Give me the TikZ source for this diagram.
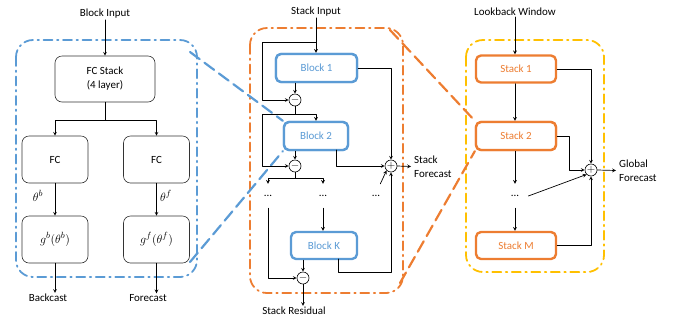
\documentclass[tikz,border=0pt]{standalone}
\usepackage{fontspec}
\setmainfont{Carlito}

\definecolor{nbblue}{HTML}{5B9BD5}
\definecolor{nborange}{HTML}{ED7D31}
\definecolor{nbgold}{HTML}{FFC000}

\tikzset{
  plainbox/.style={draw=black!80,line width=0.6pt,rounded corners=7bp,minimum width=66bp,minimum height=47bp,align=center},
  blockbox/.style={draw=nbblue,text=nbblue,line width=2.4pt,rounded corners=5bp,minimum height=27bp,fill=white},
  stackbox/.style={draw=nborange,text=nborange,line width=2.4pt,rounded corners=5bp,minimum width=80bp,minimum height=27bp,fill=white},
  opcirc/.style={circle,draw,line width=0.6pt,minimum size=12bp,inner sep=0pt,fill=white},
  dotsnode/.style={minimum height=24bp,minimum width=8bp,inner sep=0pt},
  mathlabel/.style={font=\fontsize{12.5}{14}\selectfont},
  flow/.style={->,line width=0.7pt},
  region/.style={line width=1.8pt,rounded corners=17bp,dash pattern=on 9bp off 4.5bp on 1.5bp off 4.5bp},
  zoomline/.style={line width=2.2pt,dash pattern=on 12bp off 6bp}
}

\begin{document}
\begin{tikzpicture}[x=1bp,y=-1bp,line cap=round,line join=round,>=stealth,every node/.style={inner sep=1pt,font=\fontsize{11}{14}\selectfont}]
  \useasboundingbox (0,0) rectangle (683,324);

  % dash-dot frames and the zoom lines between them
  \draw[region,nbblue] (16,40) rectangle (197,277);
  \draw[region,nborange] (250,28) rectangle (403,293);
  \draw[region,nbgold] (466,40) rectangle (604,272);
  \coordinate (bzt) at (190,52);
  \coordinate (bzb) at (190,262);
  \coordinate (ozt) at (390,30);
  \coordinate (ozb) at (400,283);

  % block
  \node (binput) at (105,14) {Block Input};
  \node[plainbox,minimum width=100bp,minimum height=46bp] (fcstack) at (105,79) {FC Stack\\(4 layer)};
  \node[plainbox] (fcb) at (55,159.5) {FC};
  \node[plainbox] (fcf) at (156.5,159.5) {FC};
  \node[plainbox,mathlabel] (gb) at (55,239.5) {$g^b(\theta^b)$};
  \node[plainbox,mathlabel] (gf) at (156.5,239.5) {$g^f(\theta^f)$};
  \node[mathlabel] (thb) at (38,196) {$\theta^b$};
  \node[mathlabel] (thf) at (166,196) {$\theta^f$};
  \node (bcast) at (48,298) {Backcast};
  \node (fcast) at (148,298) {Forecast};
  \coordinate (fcsplit) at (105,120);

  \draw[flow] (binput.south) -- (fcstack.north);
  \draw[line width=0.7pt] (fcstack.south) -- (fcsplit);
  \draw[flow] (fcsplit) -| (fcb.north);
  \draw[flow] (fcsplit) -| (fcf.north);
  \draw[flow] (fcb.south) -- (gb.north);
  \draw[flow] (fcf.south) -- (gf.north);
  \draw[flow] (gb.south) -- (gb.south |- bcast.north);
  \draw[flow] (gf.south) -- (gf.south |- fcast.north);

  % stack
  \node[blockbox,minimum width=81bp,minimum height=28bp] (blk1) at (316.5,68) {Block 1};
  \node[blockbox,minimum width=64bp,minimum height=28bp] (blk2) at (316,136) {Block 2};
  \node[blockbox,minimum width=66bp] (blkK) at (324,245.5) {Block K};
  \draw[zoomline,nbblue] (bzt) -- (blk2.north west);
  \draw[zoomline,nbblue] (bzb) -- (blk2.south west);
  \node[blockbox,minimum width=81bp,minimum height=28bp] at (blk1) {Block 1};
  \node[blockbox,minimum width=64bp,minimum height=28bp] at (blk2) {Block 2};

  \node (sinput) at (316,12) {Stack Input};
  \node[opcirc] (m1) at (295,100) {$-$};
  \node[opcirc] (m2) at (295,166) {$-$};
  \node[opcirc] (m3) at (303,278) {$-$};
  \node[opcirc] (psum) at (391,166) {$+$};
  \foreach \name/\x in {d1/268,d2/323,d3/376} {
    \node[dotsnode] (\name) at (\x,196) {...};
  }
  \node (sres) at (294,311) {Stack Residual};
  \node[anchor=west,align=left,inner sep=3pt] (sfc) at (411,166.5) {Stack\\Forecast};

  \coordinate (tap1) at (316,42);
  \coordinate (skip1) at (262,100);
  \coordinate (split1) at (295,114);
  \coordinate (skip2) at (262,114);
  \coordinate (b2out) at (336,150);
  \coordinate (split2) at (295,178);
  \coordinate (bKout) at (338,259);
  \coordinate (kturn) at (391,272);

  \draw[flow] (sinput.south) -- (sinput.south |- blk1.north);
  \draw[flow] (tap1) -| (skip1) -- (m1.west);
  \draw[flow] (blk1.south -| m1) -- (m1.north);
  \draw[flow] (blk1.east) -| (psum.north);
  \draw[line width=0.7pt] (m1.south) -- (split1);
  \draw[flow] (split1) -| (blk2.north);
  \draw[flow] (split1) -- (skip2) |- (m2.west);
  \draw[flow] (blk2.south -| m2) -- (m2.north);
  \draw[flow] (b2out) |- (psum.west);
  \draw[line width=0.7pt] (m2.south) -- (split2);
  \draw[flow] (split2) -| (d1.north);
  \draw[flow] (split2) -| (d2.north);
  \draw[flow] (d1.south) |- (m3.west);
  \draw[flow] (d2.south) -- (d2.south |- blkK.north);
  \draw[flow] (blkK.south -| m3) -- (m3.north);
  \draw[flow] (bKout) |- (kturn) -- (psum.south);
  \draw[flow] (d3.north east) -- (psum.south west);
  \draw[flow] (m3.south) -- (m3.south |- sres.north);
  \draw[flow] (psum.east) -- (sfc.west);

  % model
  \node[stackbox] (stk1) at (516,69) {Stack 1};
  \node[stackbox,minimum height=28bp] (stk2) at (516,136) {Stack 2};
  \node[stackbox] (stkM) at (516,245.5) {Stack M};
  \draw[zoomline,nborange] (ozt) -- (stk2.north west);
  \draw[zoomline,nborange] (ozb) -- (stk2.south west);
  \node[stackbox,minimum height=28bp] at (stk2) {Stack 2};

  \node (lwin) at (515,12) {Lookback Window};
  \node[dotsnode] (d4) at (515,196) {...};
  \node[opcirc] (gsum) at (591,170) {$+$};
  \node[anchor=west,align=left,inner sep=3pt] (gfc) at (616,170.5) {Global\\Forecast};
  \coordinate (s2turn) at (569,136);

  \draw[flow] (lwin.south) -- (lwin.south |- stk1.north);
  \draw[flow] (stk1.south -| d4) -- (stk2.north -| d4);
  \draw[flow] (stk2.south -| d4) -- (d4.north);
  \draw[flow] (d4.south) -- (stkM.north -| d4);
  \draw[flow] (stk1.east) -| (gsum.north);
  \draw[flow] (stk2.east) -- (s2turn) |- (gsum.west);
  \draw[flow] (stkM.east) -| (gsum.south);
  \draw[flow] ([xshift=9bp]d4.east) -- (gsum.south west);
  \draw[flow] (gsum.east) -- (gfc.west);
\end{tikzpicture}
\end{document}
